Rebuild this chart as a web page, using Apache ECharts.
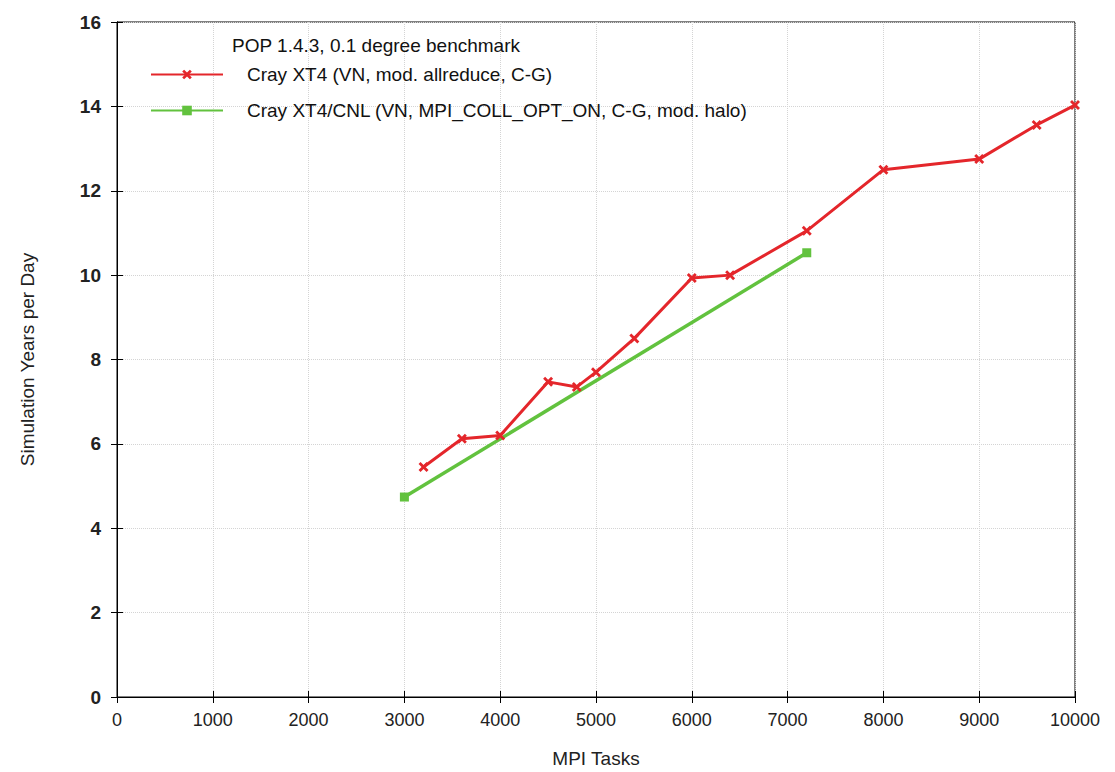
<!DOCTYPE html>
<html>
<head>
<meta charset="utf-8">
<script src="https://cdn.jsdelivr.net/npm/echarts@6/dist/echarts.min.js"></script>
<style>
  html, body { margin: 0; padding: 0; background: #fff; }
  #chart { width: 1115px; height: 772px; }
</style>
</head>
<body>
<div id="chart"></div>
<script>
(function() {
  var chartTitle = 'POP 1.4.3, 0.1 degree benchmark';
  var redName = 'Cray XT4 (VN, mod. allreduce, C-G)';
  var greenName = 'Cray XT4/CNL (VN, MPI_COLL_OPT_ON, C-G, mod. halo)';

  var redTasks = [3200, 3600, 4000, 4500, 4800, 5000, 5400, 6000, 6400, 7200, 8000, 9000, 9600, 10000];
  var redYears = [5.45, 6.12, 6.2, 7.47, 7.35, 7.7, 8.5, 9.93, 10.0, 11.05, 12.5, 12.75, 13.56, 14.03];

  var greenTasks = [3000, 7200];
  var greenYears = [4.74, 10.53];

  var red = '#e4262b';
  var green = '#62c23e';
  var font = '"Liberation Sans", Arial, sans-serif';
  var starPath = 'path://M0,2 L2,0 L5,3 L8,0 L10,2 L7,5 L10,8 L8,10 L5,7 L2,10 L0,8 L3,5 Z';

  function pairs(xs, ys) {
    return xs.map(function(x, i) { return [x, ys[i]]; });
  }

  var chart = echarts.init(document.getElementById('chart'), null, { renderer: 'svg' });
  chart.setOption({
    animation: false,
    backgroundColor: '#fff',
    title: {
      text: chartTitle,
      left: 227,
      top: 31,
      textStyle: { fontFamily: font, fontSize: 19, fontWeight: 'normal', color: '#111' }
    },
    legend: {
      orient: 'vertical',
      left: 145,
      top: 60,
      itemWidth: 72,
      itemHeight: 12,
      itemGap: 17,
      textStyle: { fontFamily: font, fontSize: 19, color: '#111', padding: [0, 0, 0, 19] },
      data: [redName, greenName]
    },
    grid: {
      left: 117, right: 40, top: 22, bottom: 75,
      outerBoundsMode: 'none',
      show: true, borderColor: '#000', borderWidth: 1
    },
    xAxis: [{
      type: 'value',
      min: 0, max: 10000, interval: 1000,
      name: 'MPI Tasks',
      nameLocation: 'middle',
      nameGap: 52,
      nameTextStyle: { fontFamily: font, fontSize: 19, color: '#222' },
      axisLine: { lineStyle: { color: '#000' } },
      axisTick: { inside: true, length: 6, lineStyle: { color: '#000' } },
      axisLabel: { fontFamily: font, fontSize: 18, color: '#222', margin: 14, formatter: function(v) { return String(v); } },
      splitLine: { show: true, lineStyle: { color: '#d4d4d4', type: 'dotted' } }
    }, {
      type: 'value',
      position: 'top',
      min: 0, max: 10000, interval: 1000,
      axisLine: { lineStyle: { color: '#000' } },
      axisTick: { inside: true, length: 6, lineStyle: { color: '#000' } },
      axisLabel: { show: false },
      splitLine: { show: false }
    }],
    yAxis: [{
      type: 'value',
      min: 0, max: 16, interval: 2,
      name: 'Simulation Years per Day',
      nameLocation: 'middle',
      nameGap: 80,
      nameTextStyle: { fontFamily: font, fontSize: 19, color: '#222' },
      axisLine: { show: true, lineStyle: { color: '#000' } },
      axisTick: { show: true, inside: true, length: 6, lineStyle: { color: '#000' } },
      axisLabel: { fontFamily: font, fontSize: 19, fontWeight: 'bold', color: '#222', margin: 16 },
      splitLine: { show: true, lineStyle: { color: '#d4d4d4', type: 'dotted' } }
    }, {
      type: 'value',
      position: 'right',
      min: 0, max: 16, interval: 2,
      axisLine: { show: true, lineStyle: { color: '#000' } },
      axisTick: { show: true, inside: true, length: 6, lineStyle: { color: '#000' } },
      axisLabel: { show: false },
      splitLine: { show: false }
    }],
    series: [{
      name: redName,
      type: 'line',
      data: pairs(redTasks, redYears),
      symbol: starPath,
      symbolSize: 10,
      lineStyle: { color: red, width: 3 },
      itemStyle: { color: red }
    }, {
      name: greenName,
      type: 'line',
      data: pairs(greenTasks, greenYears),
      symbol: 'rect',
      symbolSize: 9,
      lineStyle: { color: green, width: 3.5 },
      itemStyle: { color: green }
    }]
  });
  window.addEventListener('resize', function() { chart.resize(); });
})();
</script>
</body>
</html>
